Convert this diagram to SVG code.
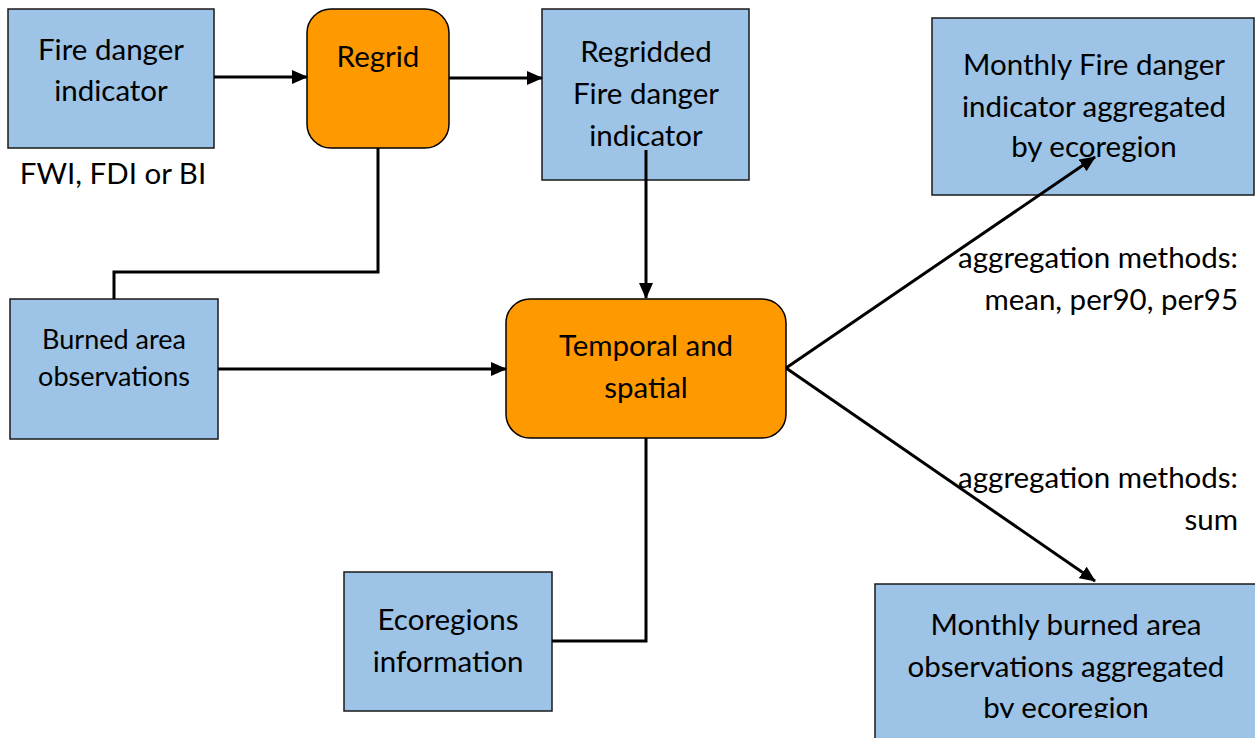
<svg xmlns="http://www.w3.org/2000/svg" width="1255" height="738" viewBox="0 0 1255 738">
<style>
.box{fill:#9DC3E6;stroke:#1a1a1a;stroke-width:1.5}
.proc{fill:#FF9900;stroke:#000;stroke-width:1.5}
.t{font-family:Lato,"Liberation Sans",sans-serif;font-size:29.5px;fill:#000;text-anchor:middle}
.s{font-size:27px}
.r{text-anchor:end}
.c{fill:none;stroke:#000;stroke-width:3}
</style>
<defs>
<marker id="ah" viewBox="0 0 16 14" refX="15" refY="7" markerWidth="16" markerHeight="14" orient="auto" markerUnits="userSpaceOnUse">
<path d="M0,0 L16,7 L0,14 z" fill="#000"/>
</marker>
<clipPath id="clipB"><rect x="875" y="584" width="380" height="134"/></clipPath>
</defs>
<rect width="1255" height="738" fill="#fff"/>
<g id="fire-danger-indicator">
<rect class="box" x="8" y="9" width="206" height="139"/>
<text class="t" x="111" y="60">Fire danger</text>
<text class="t" x="111" y="101">indicator</text>
</g>
<g id="fwi-label">
<text class="t" x="113" y="184">FWI, FDI or BI</text>
</g>
<g id="regrid">
<rect class="proc" x="307" y="9" width="142" height="139" rx="24" ry="24"/>
<text class="t" x="378" y="67">Regrid</text>
</g>
<g id="regridded">
<rect class="box" x="542" y="9" width="207" height="171"/>
<text class="t" x="646" y="62">Regridded</text>
<text class="t" x="646" y="104">Fire danger</text>
<text class="t" x="646" y="146">indicator</text>
</g>
<g id="monthly-fire">
<rect class="box" x="932" y="18" width="322" height="177"/>
<text class="t" x="1094" y="75">Monthly Fire danger</text>
<text class="t" x="1094" y="117">indicator aggregated</text>
<text class="t" x="1094" y="157">by ecoregion</text>
</g>
<g id="agg-label-1">
<text class="t r" x="1238" y="268">aggregation methods:</text>
<text class="t r" x="1238" y="310">mean, per90, per95</text>
</g>
<g id="burned-area">
<rect class="box" x="10" y="299" width="208" height="140"/>
<text class="t s" x="114" y="349">Burned area</text>
<text class="t s" x="114" y="386">observations</text>
</g>
<g id="temporal-spatial">
<rect class="proc" x="506" y="299" width="280" height="139" rx="24" ry="24"/>
<text class="t" x="646" y="356">Temporal and</text>
<text class="t" x="646" y="398">spatial</text>
</g>
<g id="agg-label-2">
<text class="t r" x="1238" y="488">aggregation methods:</text>
<text class="t r" x="1238" y="530">sum</text>
</g>
<g id="ecoregions">
<rect class="box" x="344" y="572" width="208" height="139"/>
<text class="t" x="448" y="630">Ecoregions</text>
<text class="t" x="448" y="672">information</text>
</g>
<g id="monthly-burned">
<rect class="box" x="875" y="584" width="390" height="170"/>
<g clip-path="url(#clipB)">
<text class="t" x="1066" y="635">Monthly burned area</text>
<text class="t" x="1066" y="677">observations aggregated</text>
<text class="t" x="1066" y="718">by ecoregion</text>
</g>
</g>
<g id="connectors">
<path class="c" d="M214,77 H307" marker-end="url(#ah)"/>
<path class="c" d="M449,78 H542" marker-end="url(#ah)"/>
<path class="c" d="M646,150 V298" marker-end="url(#ah)"/>
<path class="c" d="M378,148 V272 H114 V299"/>
<path class="c" d="M218,369 H506" marker-end="url(#ah)"/>
<path class="c" d="M552,641 H646 V438"/>
<path class="c" d="M786,368 L1095,157" marker-end="url(#ah)"/>
<path class="c" d="M786,368 L1095,581" marker-end="url(#ah)"/>
</g>
</svg>
